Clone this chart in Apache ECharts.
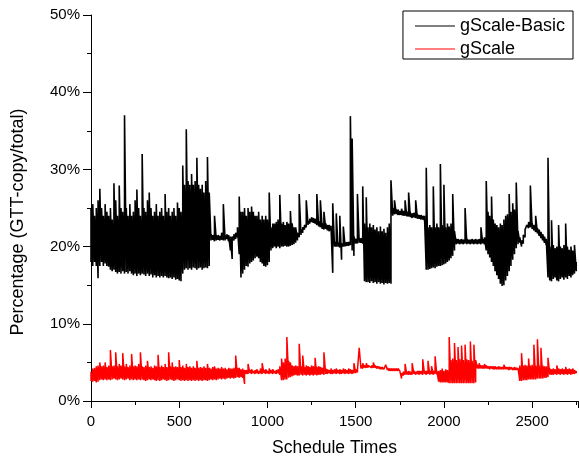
<!DOCTYPE html>
<html>
<head>
<meta charset="utf-8">
<script src="https://cdn.jsdelivr.net/npm/echarts@6/dist/echarts.min.js"></script>
<style>
html,body{margin:0;padding:0;background:#fff;}
#chart{width:579px;height:457px;}
</style>
</head>
<body>
<div id="chart"></div>
<script>
// Each bin covers 10 schedule times; for every bin the lowest and highest percentage
const step = 10;
const seriesNames = ['gScale-Basic', 'gScale'];

const basicLow = [
18,17.5,18,17.5,15.9,17.5,18,17.5,17.8,17.5,
17.4,17,16.8,17,16.7,16.5,16.7,16.5,16.8,16.5,
16.7,16.5,16.8,16.5,16.3,16.5,16.2,16.5,16.3,16.5,
16.4,16.2,16.5,16.2,16.4,16,16.3,16,16.2,16,
16.2,16,16.2,16,15.9,16,15.8,16,15.7,15.8,
15.6,15.5,16.5,17,17.2,17,17.2,17,17.3,17.2,
17,17.2,17.3,17,17.2,17.3,17.2,17.5,20.8,20.9,
20.7,20.8,20.9,20.8,20.9,20.8,20.8,21,20.7,19.5,
18.4,20.8,21,21.2,19,16,16.5,17,17.5,17.4,
17.8,18,18.2,18.5,18.7,18.5,18,17.8,17.5,17.4,
17.6,18,19.5,19.8,20,19.8,20,19.8,20,20,
20.1,20,20,20.1,20.2,20.3,20.5,20.8,21.2,21.5,
21.8,22.2,22.5,22.8,23,23.2,23.1,23,22.8,22.6,
22.5,22.3,22.2,22.3,22.1,22,22.1,16.6,20,20,
20,19.9,18.3,20,20,20.1,20.1,20.2,19.5,18.8,
20.4,20.4,20.5,20.5,20.4,15.5,15.4,15.4,15.3,15.5,
15.3,15.4,15.2,15.4,15.2,15.3,15.1,15.3,15.2,15.3,
15.2,24,24.2,24.2,24.1,24.1,24.1,24,24,23.9,
23.9,23.8,23.7,23.8,23.7,23.6,23.6,23.5,23.5,23.4,
17,17,17.1,17.2,17.3,17.2,17.4,17.5,17.5,17.6,
17.7,17.8,18,18.2,18.5,18.8,19.5,20.3,20.4,20.3,
20.4,20.3,20.4,20.3,20.4,20.3,20.4,20.3,20.4,20.3,
20.4,20.3,20.4,20.3,19.5,19,18.6,18,17.5,16.8,
16.3,15.8,15.2,14.9,15,15.6,16.2,16.8,17.5,18.3,
19,19.8,20.3,20.5,20,20.4,21.2,22,22.4,22.5,
22.3,22.1,21.9,21.7,21.4,21.1,20.8,20.5,20.2,16,
15.6,15.5,15.8,16,15.6,15.5,15.8,16,15.7,16,
15.8,16.2,16,16.3,16.5,16.8
];
const basicHigh = [
25,25.5,24,25,26,27.5,25,24,25.5,24.5,
24,25,23.5,28.2,26,24,27.9,25,24.5,37,
25,24,25.5,24,24.5,26,27.4,25,24,32,
25,24.5,26,27,25,24,24.5,25.5,24,24.5,
25,24,26.8,24.5,25,24,24.5,25,24,25.7,
25,24.5,30.5,28,35.2,28.5,28,29.4,28,28.5,
31.5,28,27.5,28,27,28.5,31.6,27,21.6,21.5,
24,21.4,21.5,21.4,21.8,25.5,21.4,21.6,21.5,21.3,
21.3,21.6,21.8,22.5,26.5,24.5,24.5,25,24,25,
24.5,25.2,24.5,24,24,24.5,23.5,24,23.5,24,
23.5,27,22.5,23,23,23.2,23.5,26.7,23,23.2,
22.8,23.2,23,24.6,23,22.5,22.5,21.8,26.8,22.2,
22.5,22.8,26,23.3,23.6,23.8,23.7,23.6,26.8,23.3,
26,23,24.5,23,22.8,22.8,22.7,25.6,20.6,24.3,
20.5,24,20.4,22.6,20.5,20.6,20.6,36.9,34,21.3,
21,26.8,21,21.1,27.8,23,26.4,22.5,23,22.5,
22.8,22.2,22.5,22,22.6,22,22.3,21.8,22.5,23,
28.6,25,26,24.8,24.8,24.6,24.9,24.6,26,24.5,
27,24.4,24.3,24.4,26,24.2,24.1,24.1,24,24,
30.2,22.5,22.8,22.5,27.8,22.5,23,22.5,30.7,22.8,
28,22.5,23,22.6,23,26.8,22,21,21,20.9,
21,20.9,25,21,20.9,20.9,21,20.9,21,20.9,
21,22.5,21,21.2,28.5,24.5,24,26.5,23.5,23,
22.8,22.5,23,22.8,23.5,24,24.2,26.8,24.5,25.6,
24.8,28.3,22,21.2,20.8,21.5,22.2,22.8,23.2,27.9,
23,22.8,24,22.4,22.2,21.9,21.6,21.3,21,31.5,
20,23.4,20.2,19.8,20,22.8,20,19.8,20.2,23,
20,19.6,20,19.5,20.2,18
];
const gscaleLow = [
2.6,2.5,2.6,2.4,2.5,2.7,2.8,2.7,2.8,2.7,
2.8,2.7,2.8,2.9,2.8,2.7,2.8,2.9,2.8,2.7,
2.8,2.9,2.7,2.8,2.7,2.8,2.7,2.8,2.7,2.8,
2.7,2.6,2.7,2.8,2.7,2.8,2.7,2.6,2.7,2.6,
2.7,2.8,2.7,2.6,2.7,2.8,2.7,2.6,2.7,2.8,
2.7,2.6,2.7,2.6,2.7,2.6,2.7,2.6,2.7,2.6,
2.7,2.6,2.7,2.6,2.7,2.7,2.6,2.7,2.8,2.7,
2.8,2.7,2.8,2.9,2.8,2.9,2.8,2.9,3,2.9,
3,2.9,3,3.1,3,3.1,3,2.2,3.5,3.5,
3.6,3.5,3.6,3.5,3.6,3.5,3.6,3.5,3.6,3.5,
3.6,3.5,3.6,3.5,3.6,3.5,3.6,3.4,2.7,2.7,
2.8,2.8,3,3.1,3.2,3.3,3.4,3.3,3.3,3.4,
3.3,3.4,3.3,3.4,3.3,3.4,3.3,3.4,3.3,3.4,
3.4,3.5,3.4,3.5,3.5,3.6,3.5,3.5,3.6,3.5,
3.6,3.5,3.5,3.6,3.5,3.6,3.5,3.6,3.5,3.6,
3.6,3.7,3.8,4.2,4.2,4.3,4.3,4.3,4.4,4.3,
4.3,4.3,4.2,4.2,4.1,4.1,4.1,4,4,3.9,
3.9,3.9,3.9,3.9,3.9,3.9,2.9,3.3,3.4,3.4,
3.4,3.4,3.4,3.5,3.4,3.5,3.4,3.5,3.4,3.5,
3.4,3.5,3.4,3.5,3.4,3.5,3.4,2.5,2.4,2.4,
2.4,2.4,2.4,2.3,2.3,2.3,2.3,2.3,2.3,2.3,
2.3,2.3,2.3,2.3,2.3,2.3,2.3,2.3,2.4,4.2,
4.2,4.2,4.2,4.2,4.2,4.2,4.1,4.2,4.1,4.1,
4.1,4.1,4.1,4.1,4.1,4.1,4.1,4,4.1,4,
4,4,4,2.6,2.6,2.7,2.7,2.7,2.8,2.8,
2.8,2.8,2.8,2.9,2.9,2.9,2.9,3,3,3.1,
3.4,3.4,3.4,3.5,3.4,3.5,3.4,3.5,3.4,3.5,
3.4,3.5,3.4,3.5,3.5,3.6
];
const gscaleHigh = [
3.8,4.2,4.3,4.5,4.6,5,4.5,4.6,5,4.4,
4.6,6.6,4.5,4.6,6.3,4.5,4.8,4.6,6.2,4.5,
4.8,4.4,4.6,6.1,4.5,4.6,4.5,4.8,6.3,4.5,
4.4,4.6,5.2,4.4,4.5,4.3,4.6,4.5,6,4.4,
4.6,4.4,4.8,4.4,6.3,4.5,5,4.4,4.5,4.4,
5.3,4.4,4.6,4.3,4.8,4.4,4.5,4.3,4.5,4.3,
5.2,4.3,4.4,4.3,4.5,4.3,4.8,4.3,4.2,4.4,
4.5,4.2,4.3,4.2,4.4,4.2,4.3,4.1,4.3,4.2,
4.2,4.3,5.9,4.3,4.3,4.1,4.2,4,4,4.8,
4,4.1,3.9,4,4.1,3.9,4.2,4.9,4,4.1,
3.9,4.2,4,4.1,3.9,4,4.1,4.5,5.5,5,
5.5,8.3,5.2,5,4.6,4.5,4.6,4.5,7.4,4.5,
5.9,4.4,4.6,4.5,4.4,4.6,4.5,5.6,4.4,4.5,
4.4,4.3,6.3,4.2,4.1,4,4.2,4,4.1,4.2,
4,4.1,4,4.2,4.1,4,4.2,4.1,4,4.9,
4.1,4,6.9,4.6,4.9,4.6,4.9,4.6,4.7,4.6,
5,4.6,4.5,4.5,4.4,4.4,4.3,4.7,4.3,4.2,
4.2,4.2,4.2,4.2,4.2,4.1,3.6,3.8,4.8,3.8,
3.9,3.8,4.9,3.9,3.8,3.9,3.9,3.9,5.4,3.9,
3.9,5.2,3.9,4.5,3.9,5.8,3.9,3.9,4,4.2,
3.9,4.1,4,8.3,5.3,5.5,7.5,5.3,7,5.4,
7.2,5.3,7.3,5.4,5.3,7.7,5.2,7.3,5.3,4.7,
4.9,4.6,4.6,4.8,4.6,4.5,4.5,4.5,4.5,4.5,
4.4,4.5,4.4,4.4,4.7,4.4,4.4,4.4,4.4,4.3,
4.4,4.3,4.3,4.6,6.2,4.6,4.7,4.6,5.5,4.6,
4.7,7.3,4.6,8,4.6,6.9,4.6,4.5,4.5,5.6,
4.2,4.1,4.2,4.1,4.6,4.2,4.1,4.2,4.1,4.4,
4.1,4.2,4.1,4.2,4,3.9
];
const xTicks = [0, 500, 1000, 1500, 2000, 2500];
const yTicks = [0, 10, 20, 30, 40, 50];

// each bin is drawn as a stroke from its low up to its high value
function binsToPoints(low, high) {
  const pts = [];
  for (let i = 0; i < low.length; i++) {
    const x = i * step;
    pts.push([x, low[i]], [x, high[i]]);
  }
  return pts;
}
const font = 'Liberation Sans, Arial, sans-serif';

const chart = echarts.init(document.getElementById('chart'), null, {renderer: 'canvas'});
chart.setOption({
  animation: false,
  backgroundColor: '#fff',
  grid: {left: 91, right: 1, top: 15, bottom: 56, containLabel: false, outerBoundsMode: 'none'},
  legend: {
    orient: 'vertical', right: 6, top: 11,
    data: seriesNames,
    icon: 'rect', itemWidth: 40, itemHeight: 1,
    itemGap: 5,
    borderColor: '#000', borderWidth: 1,
    padding: [6, 8, 1, 12],
    textStyle: {fontFamily: font, fontSize: 18, color: '#000'}
  },
  xAxis: {
    type: 'value', min: 0, max: 2760, interval: 500,
    name: 'Schedule Times', nameLocation: 'middle', nameGap: 38,
    nameTextStyle: {fontFamily: font, fontSize: 17.5, color: '#000'},
    axisLine: {onZero: false, lineStyle: {color: '#000', width: 1}},
    axisTick: {show: true, length: 7, lineStyle: {color: '#000'}},
    minorTick: {show: true, splitNumber: 2, length: 4, lineStyle: {color: '#000'}},
    splitLine: {show: false},
    axisLabel: {fontFamily: font, fontSize: 15, color: '#000', margin: 13,
      formatter: v => xTicks.includes(v) ? String(v) : ''}
  },
  yAxis: {
    type: 'value', min: 0, max: 50, interval: 10,
    name: 'Percentage (GTT-copy/total)', nameLocation: 'middle', nameGap: 64,
    nameTextStyle: {fontFamily: font, fontSize: 18, color: '#000', padding: [0, 28, 0, 0]},
    axisLine: {show: true, lineStyle: {color: '#000', width: 1}},
    axisTick: {show: true, length: 8, lineStyle: {color: '#000'}},
    minorTick: {show: true, splitNumber: 2, length: 4, lineStyle: {color: '#000'}},
    splitLine: {show: false},
    axisLabel: {fontFamily: font, fontSize: 15, color: '#000', margin: 11,
      formatter: v => yTicks.includes(v) ? v + '%' : ''}
  },
  series: [
    {name: seriesNames[0], type: 'line', data: binsToPoints(basicLow, basicHigh), symbol: 'none', showSymbol: false,
     sampling: null, color: '#000', lineStyle: {color: '#000', width: 1.6}},
    {name: seriesNames[1], type: 'line', data: binsToPoints(gscaleLow, gscaleHigh), symbol: 'none', showSymbol: false,
     sampling: null, color: '#ff0000', lineStyle: {color: '#ff0000', width: 1.5}}
  ]
});
</script>
</body>
</html>
